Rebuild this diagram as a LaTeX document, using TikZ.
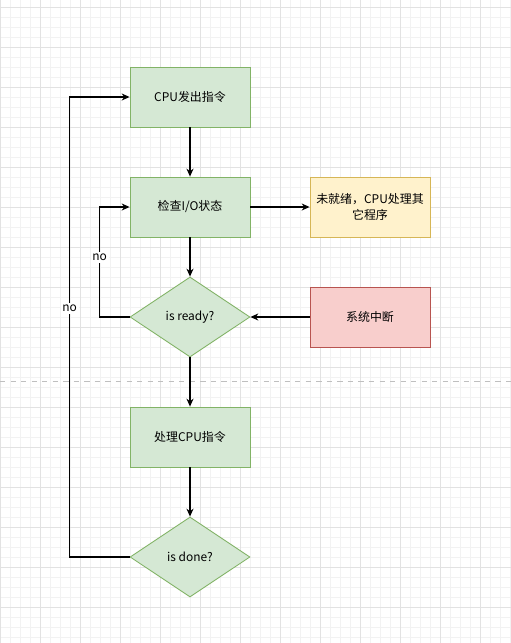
\documentclass[tikz,border=0pt]{standalone}
\usepackage{fontspec}
\setmainfont{Noto Sans CJK SC}
\usepackage{tikz}
\usetikzlibrary{arrows.meta}
\usetikzlibrary{positioning}
\usetikzlibrary{shapes.geometric}

\definecolor{greenfill}{HTML}{D5E8D4}
\definecolor{greenline}{HTML}{82B366}
\definecolor{yellowfill}{HTML}{FFF2CC}
\definecolor{yellowline}{HTML}{D6B656}
\definecolor{redfill}{HTML}{F8CECC}
\definecolor{redline}{HTML}{B85450}
\definecolor{gridminor}{HTML}{F2F2F2}
\definecolor{gridmajor}{HTML}{E2E2E2}

\tikzset{
  stepbox/.style={rectangle,draw=greenline,fill=greenfill,line width=0.5pt,
    minimum width=2.4cm,minimum height=1.2cm,inner sep=0pt,align=center},
  waitbox/.style={stepbox,draw=yellowline,fill=yellowfill},
  irqbox/.style={stepbox,draw=redline,fill=redfill},
  askbox/.style={diamond,draw=greenline,fill=greenfill,line width=0.5pt,
    minimum width=2.4cm,minimum height=1.6cm,inner sep=0pt,aspect=1.5},
  flow/.style={->,line width=0.6pt},
  nolabel/.style={fill=white,inner sep=1pt}
}

\begin{document}
\begin{tikzpicture}[>={Stealth[length=4.5pt,width=4pt]},x=0.02cm,y=-0.02cm,
  font=\fontsize{6.8}{8.6}\selectfont]
			\useasboundingbox (0,0) rectangle (511,643);
			\fill[white] (0,0) rectangle (511,643);
			% grid
			\foreach \i in {0,10,...,510} \draw[gridminor,line width=0.4pt] (\i,0) -- (\i,643);
			\foreach \j in {7,17,...,637} \draw[gridminor,line width=0.4pt] (0,\j) -- (511,\j);
			\foreach \i in {0,40,...,480} \draw[gridmajor,line width=0.4pt] (\i,0) -- (\i,643);
			\foreach \j in {7,47,...,607} \draw[gridmajor,line width=0.4pt] (0,\j) -- (511,\j);
			\draw[gray!50,dashed,line width=0.4pt] (0,381) -- (511,381);

			\node[stepbox] (send) at (190,97) {CPU发出指令};
			\node[stepbox] (check) at (190,207) {检查I/O状态};
			\node[waitbox] (busy) at (370,207) {未就绪，CPU处理其\\它程序};
			\node[askbox] (ready) at (190,317) {is ready?};
			\node[irqbox] (irq) at (370,317) {系统中断};
			\node[stepbox] (run) at (190,437) {处理CPU指令};
			\node[askbox] (done) at (190,557) {is done?};

			\draw[flow] (send) -- (check);
			\draw[flow] (check) -- (busy);
			\draw[flow] (check) -- (ready);
			\draw[flow] (irq) -- (ready);
			\draw[flow] (ready) -- (run);
			\draw[flow] (run) -- (done);
			\draw[flow] (ready.west) -- ++(-30,0) |- node[nolabel,pos=0.27]{no} (check.west);
			\draw[flow] (done.west) -- ++(-60,0) |- node[nolabel,pos=0.27]{no} (send.west);
		\end{tikzpicture}
\end{document}
